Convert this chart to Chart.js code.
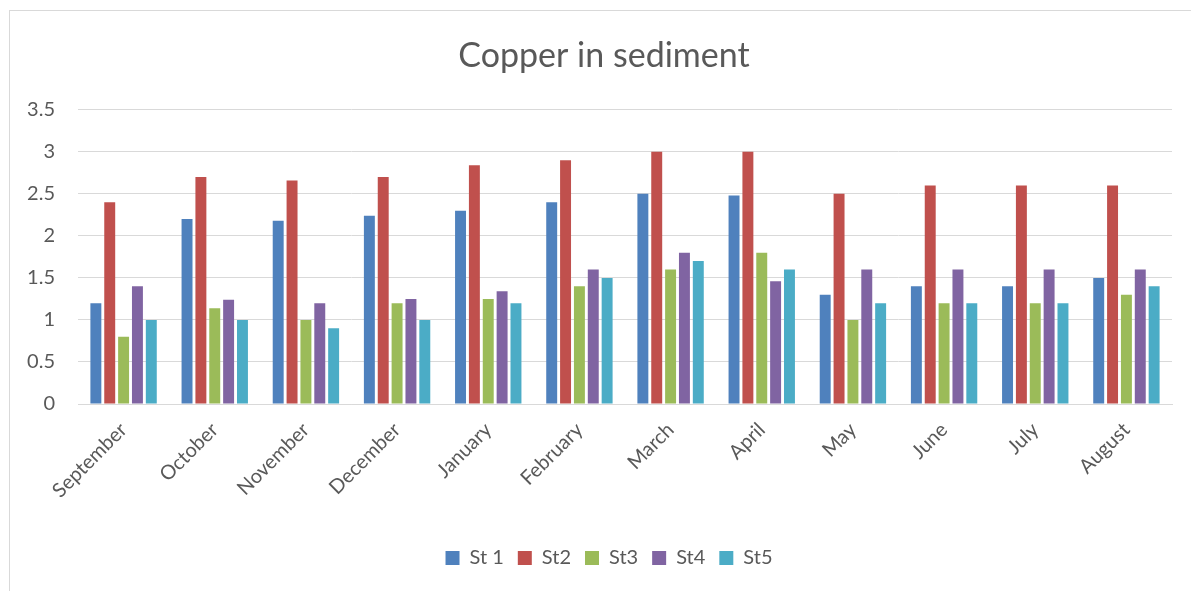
<!DOCTYPE html>
<html>
<head>
<meta charset="utf-8">
<script src="https://cdn.jsdelivr.net/npm/chart.js@4.4.1/dist/chart.umd.min.js"></script>
<style>
  html, body { margin: 0; padding: 0; background: #ffffff; overflow: hidden; }
  #wrap { position: relative; width: 1191px; height: 591px; }
  #frame { position: absolute; left: 9px; top: 10px; width: 1200px; height: 600px; border: 1px solid #d9d9d9; box-sizing: border-box; }
  canvas { position: absolute; left: 0; top: 0; }
</style>
</head>
<body>
<div id="wrap">
  <div id="frame"></div>
  <canvas id="c" width="1191" height="591"></canvas>
</div>
<script>
const categories = ["September","October","November","December","January","February","March","April","May","June","July","August"];
const seriesNames = ["St 1","St2","St3","St4","St5"];
const st1 = [1.2, 2.2, 2.18, 2.24, 2.3, 2.4, 2.5, 2.48, 1.3, 1.4, 1.4, 1.5];
const st2 = [2.4, 2.7, 2.66, 2.7, 2.84, 2.9, 3.0, 3.0, 2.5, 2.6, 2.6, 2.6];
const st3 = [0.8, 1.14, 1.0, 1.2, 1.25, 1.4, 1.6, 1.8, 1.0, 1.2, 1.2, 1.3];
const st4 = [1.4, 1.24, 1.2, 1.25, 1.34, 1.6, 1.8, 1.46, 1.6, 1.6, 1.6, 1.6];
const st5 = [1.0, 1.0, 0.9, 1.0, 1.2, 1.5, 1.7, 1.6, 1.2, 1.2, 1.2, 1.4];
const colors = ["#4F81BD","#C0504D","#9BBB59","#8064A2","#4BACC6"];
const yTicks = [0, 0.5, 1, 1.5, 2, 2.5, 3, 3.5];

const seriesValues = [st1, st2, st3, st4, st5];
const FONT = "Lato";
const TEXT = "#595959";

// shift the title and legend horizontally to the reference centres
const centerShift = {
  id: "centerShift",
  afterLayout(chart) {
    const t = chart.titleBlock, l = chart.legend;
    if (t) { t.left += 18; t.right += 18; }
    if (l) { l.left += 23; l.right += 23; if (l.legendHitBoxes) l.legendHitBoxes.forEach(b => { b.left += 23; }); }
  }
};

new Chart(document.getElementById("c"), {
  type: "bar",
  data: {
    labels: categories,
    datasets: seriesNames.map((n, i) => ({
      label: n,
      data: seriesValues[i],
      backgroundColor: colors[i],
      borderWidth: 0,
      categoryPercentage: 0.76,
      barPercentage: 0.79
    }))
  },
  plugins: [centerShift],
  options: {
    responsive: false,
    animation: false,
    devicePixelRatio: 1,
    layout: { padding: { left: 0, right: 19, top: 10, bottom: 13 } },
    plugins: {
      title: {
        display: true,
        text: "Copper in sediment",
        color: TEXT,
        font: { family: FONT, size: 34, weight: "normal" },
        padding: { top: 26, bottom: 33 }
      },
      legend: {
        position: "bottom",
        labels: {
          color: TEXT,
          font: { family: FONT, size: 20 },
          boxWidth: 14,
          boxHeight: 14,
          padding: 14
        }
      },
      tooltip: { enabled: false }
    },
    scales: {
      x: {
        grid: { display: false, drawTicks: false },
        border: { display: true, color: "#d9d9d9", width: 1 },
        ticks: {
          color: TEXT,
          font: { family: FONT, size: 20 },
          maxRotation: 45,
          minRotation: 45,
          padding: 14
        },
        afterFit: (s) => { s.height = 130; }
      },
      y: {
        min: 0,
        max: 3.5,
        afterBuildTicks: (s) => { s.ticks = yTicks.map(v => ({ value: v })); },
        grid: { color: "#d9d9d9", lineWidth: 1, drawTicks: false },
        border: { display: false },
        ticks: {
          color: TEXT,
          font: { family: FONT, size: 20 },
          padding: 23,
          callback: (v) => String(v)
        },
        afterFit: (s) => { s.width = 78; }
      }
    }
  }
});
</script>
</body>
</html>
